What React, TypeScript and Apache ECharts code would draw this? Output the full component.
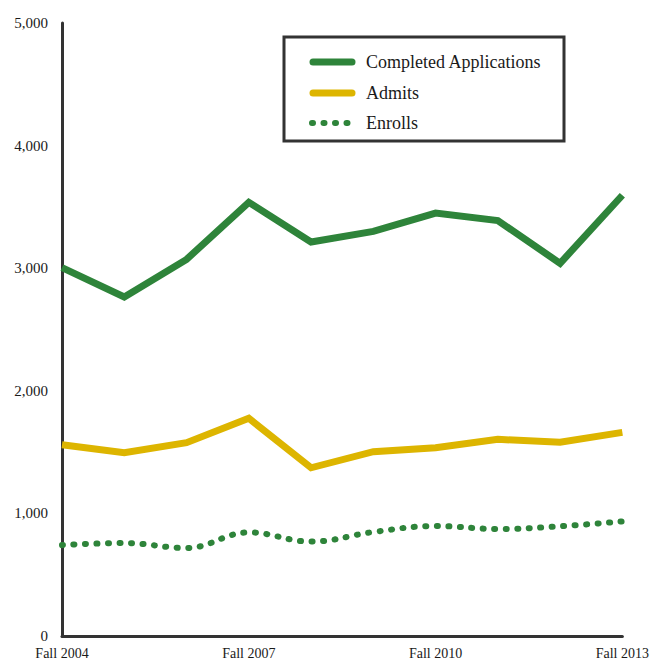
import React, { useEffect, useRef } from "react";
import * as echarts from "echarts";

const categories = [
  "Fall 2004", "Fall 2005", "Fall 2006", "Fall 2007", "Fall 2008",
  "Fall 2009", "Fall 2010", "Fall 2011", "Fall 2012", "Fall 2013",
];
const completedApplications = [3005, 2765, 3072, 3537, 3214, 3300, 3450, 3388, 3040, 3595];
const admits = [1560, 1495, 1577, 1776, 1372, 1503, 1536, 1604, 1580, 1661];
const enrolls = [742, 758, 718, 845, 770, 848, 897, 873, 895, 935];
const yTicks = [0, 1000, 2000, 3000, 4000, 5000];
const shownXLabels = ["Fall 2004", "Fall 2007", "Fall 2010", "Fall 2013"];
const legendNames = ["Completed Applications", "Admits", "Enrolls"];

const GREEN = "#2E843A";
const GOLD = "#DDB500";
const FONT = "'Liberation Serif', 'DejaVu Serif', serif";

export default function App() {
  const ref = useRef<HTMLDivElement>(null);
  useEffect(() => {
    if (!ref.current) return;
    const chart = echarts.init(ref.current, undefined, { renderer: "svg" });
    const legendRows = [62, 93, 123];
    chart.setOption({
      animation: false,
      backgroundColor: "#ffffff",
      grid: { left: 62, right: 27, top: 23, bottom: 26, containLabel: false },
      xAxis: {
        type: "category",
        data: categories,
        boundaryGap: false,
        axisLine: { show: true, lineStyle: { color: "#333333", width: 3 } },
        axisTick: { show: false },
        splitLine: { show: false },
        axisLabel: {
          interval: 0,
          margin: 10,
          fontFamily: FONT,
          fontSize: 14,
          color: "#1a1a1a",
          formatter: (v: string) => (shownXLabels.includes(v) ? v : ""),
        },
      },
      yAxis: {
        type: "value",
        min: yTicks[0],
        max: yTicks[yTicks.length - 1],
        interval: 1000,
        axisLine: { show: true, lineStyle: { color: "#333333", width: 3 } },
        axisTick: { show: false },
        splitLine: { show: false },
        axisLabel: {
          margin: 14,
          fontFamily: FONT,
          fontSize: 15,
          color: "#1a1a1a",
          formatter: (v: number) => v.toLocaleString("en-US"),
        },
      },
      series: [
        {
          name: legendNames[0],
          type: "line",
          data: completedApplications,
          showSymbol: false,
          symbol: "none",
          lineStyle: { color: GREEN, width: 7, join: "miter", cap: "butt" },
          z: 3,
        },
        {
          name: legendNames[1],
          type: "line",
          data: admits,
          showSymbol: false,
          symbol: "none",
          lineStyle: { color: GOLD, width: 7, join: "miter", cap: "butt" },
          z: 3,
        },
        {
          name: legendNames[2],
          type: "line",
          data: enrolls,
          smooth: 0.4,
          showSymbol: false,
          symbol: "none",
          lineStyle: { color: GREEN, width: 6, type: [1, 10.5], cap: "round" },
          z: 3,
        },
      ],
      graphic: [
        {
          type: "rect",
          shape: { x: 284, y: 37, width: 280, height: 104 },
          style: { fill: "#ffffff", stroke: "#333333", lineWidth: 3 },
          z: 10,
        },
        {
          type: "line",
          shape: { x1: 313, y1: legendRows[0], x2: 352, y2: legendRows[0] },
          style: { stroke: GREEN, lineWidth: 7, lineCap: "round" },
          z: 11,
        },
        {
          type: "line",
          shape: { x1: 313, y1: legendRows[1], x2: 352, y2: legendRows[1] },
          style: { stroke: GOLD, lineWidth: 7, lineCap: "round" },
          z: 11,
        },
        {
          type: "line",
          shape: { x1: 312, y1: legendRows[2], x2: 352, y2: legendRows[2] },
          style: { stroke: GREEN, lineWidth: 6, lineCap: "round", lineDash: [1, 10.5] },
          z: 11,
        },
        ...legendNames.map((name, i) => ({
          type: "text",
          x: 366,
          y: legendRows[i],
          style: {
            text: name,
            fill: "#1a1a1a",
            font: `18px ${FONT}`,
            verticalAlign: "middle",
            align: "left",
          },
          z: 11,
        })),
      ],
    });
    return () => chart.dispose();
  }, []);
  return (
    <div
      ref={ref}
      style={{ position: "fixed", left: 0, top: 0, width: 652, height: 662 }}
    />
  );
}
